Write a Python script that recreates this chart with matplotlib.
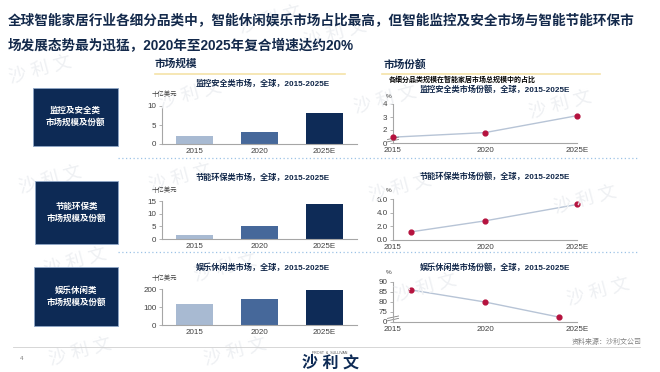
import matplotlib
matplotlib.use("Agg")
from matplotlib import pyplot as plt
from matplotlib.patches import Rectangle

plt.rcParams['font.family'] = ['Liberation Sans', 'Noto Sans CJK SC', 'DejaVu Sans']

# data
categories = ['2015', '2020', '2025E']
security_size = [2.0, 3.2, 8.1]
energy_size = [1.4, 5.0, 13.9]
leisure_size = [115, 145, 193]

share_years_security = [2015, 2020, 2025]
security_share = [1.45, 1.8, 3.1]
share_years_energy = [2016, 2020, 2025]
energy_share = [1.2, 2.8, 5.2]
share_years_leisure = [2016, 2020, 2024]
leisure_share = [86, 80, 72.5]

box_labels = ['监控及安全类\n市场规模及份额', '节能环保类\n市场规模及份额', '娱乐休闲类\n市场规模及份额']
bar_titles = ['监控安全类市场，全球，2015-2025E', '节能环保类市场，全球，2015-2025E', '娱乐休闲类市场，全球，2015-2025E']
line_titles = ['监控安全类市场份额，全球，2015-2025E', '节能环保类市场份额，全球，2015-2025E', '娱乐休闲类市场份额，全球，2015-2025E']

W, H = 660, 372
NAVY = '#0D2A55'
TXT = '#13294B'
GRAY = '#404040'
bar_colors = ['#A8BAD2', '#46689A', '#0E2B57']
line_color = '#B7C4D6'
dot_color = '#B5123E'

fig = plt.figure(figsize=(6.6, 3.72), dpi=100)


def px_axes(x0, y0, x1, y1):
    return fig.add_axes([x0 / W, 1 - y1 / H, (x1 - x0) / W, (y1 - y0) / H])


def ftext(x, y, s, **kw):
    fig.text(x / W, 1 - y / H, s, **kw)


# faint watermarks
for wx, wy in [(270, 20), (335, 34), (40, 70), (190, 95), (385, 100), (560, 105),
               (50, 180), (180, 178), (400, 188), (585, 200), (75, 262), (225, 268),
               (425, 288), (598, 292), (235, 352), (80, 352)]:
    ftext(wx, wy, '沙 利 文', fontsize=13, color='#EEF0F3', rotation=15,
          ha='center', va='center', zorder=0)

# title
ftext(8, 20, '全球智能家居行业各细分品类中，智能休闲娱乐市场占比最高，但智能监控及安全市场与智能节能环保市',
      fontsize=9.8, fontweight='bold', color=TXT, va='center')
ftext(8, 46, '场发展态势最为迅猛，2020年至2025年复合增速达约20%',
      fontsize=9.8, fontweight='bold', color=TXT, va='center')

# section headers
ftext(155, 64, '市场规模', fontsize=7.7, fontweight='bold', color=TXT, va='center')
ftext(384, 64, '市场份额', fontsize=7.7, fontweight='bold', color=TXT, va='center')
fig.add_artist(plt.Line2D([155 / W, 345 / W], [1 - 74 / H, 1 - 74 / H], color='#F5E3A8', lw=1.2))
fig.add_artist(plt.Line2D([382 / W, 600 / W], [1 - 74 / H, 1 - 74 / H], color='#F5E3A8', lw=1.2))
ftext(389, 80, '各细分品类规模在智能家居市场总规模中的占比', fontsize=5, fontweight='bold',
      color='black', va='center')

# dotted separators
for sy in [158, 252]:
    fig.add_artist(plt.Line2D([118 / W, 638 / W], [1 - sy / H, 1 - sy / H], color='#9DC3E6',
                              lw=0.9, linestyle=(0, (1, 2))))

# left boxes
boxes = [(33, 88, 118, 146), (35, 181, 118, 244), (34, 267, 118, 326)]
for (x0, y0, x1, y1), lab in zip(boxes, box_labels):
    fig.add_artist(Rectangle((x0 / W, 1 - y1 / H), (x1 - x0) / W, (y1 - y0) / H,
                             facecolor=NAVY, edgecolor='#8FA6C6', lw=0.6,
                             transform=fig.transFigure))
    ftext((x0 + x1) / 2, (y0 + y1) / 2, lab, fontsize=6.1, fontweight='bold', color='white',
          ha='center', va='center', linespacing=1.5)

# bar charts
bar_specs = [
    (security_size, (106, 144), 10, [0, 5, 10], 84, 94),
    (energy_size, (201, 239), 15, [0, 5, 10, 15], 178, 190),
    (leisure_size, (289, 325), 200, [0, 100, 200], 268, 278),
]
for i, (vals, (yt, yb), top, ticks, ty, uy) in enumerate(bar_specs):
    ax = px_axes(162, yt, 357, yb)
    ax.bar(range(len(categories)), vals, width=0.57, color=bar_colors)
    ax.set_xlim(-0.5, 2.5)
    ax.set_ylim(0, top)
    ax.set_yticks(ticks)
    ax.set_xticks(range(len(categories)))
    ax.set_xticklabels(categories)
    ax.patch.set_alpha(0)
    for s in ['top', 'right']:
        ax.spines[s].set_visible(False)
    for s in ['left', 'bottom']:
        ax.spines[s].set_color('#A6A6A6')
        ax.spines[s].set_linewidth(0.8)
    ax.tick_params(axis='x', length=0, labelsize=5.8, labelcolor=GRAY, pad=3)
    ax.tick_params(axis='y', length=2, width=0.6, color='#A6A6A6', labelsize=5.8,
                   labelcolor=GRAY, pad=2)
    ftext(263, ty, bar_titles[i], fontsize=5.9, fontweight='bold', color=TXT,
          ha='center', va='center')
    ftext(152, uy, '十亿美元', fontsize=4.6, color=GRAY, va='center')

# line charts (broken y axis where the reference shows one)
line_specs = [
    (share_years_security, security_share, (104, 143), (1, 4), [1, 2, 3, 4], ['0', '2', '3', '4'], 90, 96, True),
    (share_years_energy, energy_share, (199, 240), (0, 6), [0, 2, 4, 6], ['0.0', '2.0', '4.0', '6.0'], 177, 190, False),
    (share_years_leisure, leisure_share, (282, 322), (70, 90), [70, 75, 80, 85, 90], ['0', '75', '80', '85', '90'], 268, 272, True),
]
for i, (xs, ys, (yt, yb), ylim, ticks, labels, ty, py, brk) in enumerate(line_specs):
    ax = px_axes(393, yt, 577, yb)
    ax.plot(xs, ys, color=line_color, lw=1.0, zorder=2, clip_on=False)
    ax.scatter(xs, ys, s=12, color=dot_color, zorder=3, clip_on=False)
    ax.set_xlim(2015, 2025)
    ax.set_ylim(*ylim)
    ax.set_yticks(ticks)
    ax.set_yticklabels(labels)
    ax.set_xticks([2015, 2020, 2025])
    ax.set_xticklabels(categories)
    ax.patch.set_alpha(0)
    for s in ['top', 'right']:
        ax.spines[s].set_visible(False)
    for s in ['left', 'bottom']:
        ax.spines[s].set_color('#A6A6A6')
        ax.spines[s].set_linewidth(0.8)
    ax.tick_params(axis='x', length=0, labelsize=5.8, labelcolor=GRAY, pad=3)
    ax.tick_params(axis='y', length=2, width=0.6, color='#A6A6A6', labelsize=5.8,
                   labelcolor=GRAY, pad=2)
    if brk:
        for dy in [0.06, 0.12]:
            ax.plot([-0.03, 0.03], [dy - 0.03, dy + 0.03], transform=ax.transAxes,
                    color='#808080', lw=0.6, clip_on=False)
    ftext(495, ty, line_titles[i], fontsize=5.9, fontweight='bold', color=TXT,
          ha='center', va='center')
    ftext(386, py, '%', fontsize=4.6, color=GRAY, va='center')

# footer
fig.add_artist(plt.Line2D([13 / W, 640 / W], [1 - 347 / H, 1 - 347 / H], color='#D0D0D0', lw=0.6))
ftext(20, 358, '4', fontsize=4.5, color='#808080', va='center')
ftext(642, 342, '资料来源：沙利文公司', fontsize=5, color='#808080', ha='right', va='center')
ftext(330, 353, 'FROST  &  SULLIVAN', fontsize=2.6, color='#555555', ha='center', va='center')
ftext(330, 363, '沙 利 文', fontsize=11.5, fontweight='bold', color=NAVY, ha='center', va='center')

fig.savefig('out.png', dpi=100)
